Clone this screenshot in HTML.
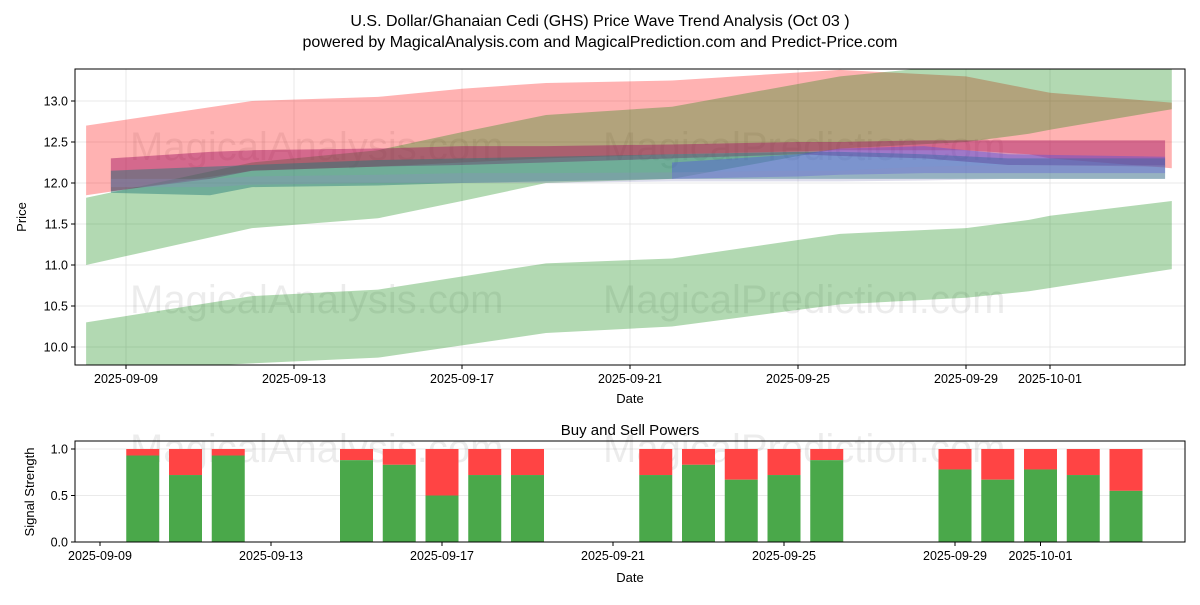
<!DOCTYPE html>
<html><head><meta charset="utf-8"><style>
body{margin:0;background:#fff;font-family:"Liberation Sans",sans-serif;}
svg text{font-family:"Liberation Sans",sans-serif;fill:#000;}
</style></head><body>
<svg id="s" width="1200" height="600" xmlns="http://www.w3.org/2000/svg">
<text x="600" y="26" text-anchor="middle" font-size="16">U.S. Dollar/Ghanaian Cedi (GHS) Price Wave Trend Analysis (Oct 03 )</text>
<text x="600" y="47" text-anchor="middle" font-size="16">powered by MagicalAnalysis.com and MagicalPrediction.com and Predict-Price.com</text>
<g id="topPanel"></g>
<g id="botPanel"></g>
</svg>
<script>
// ---- data ----
const bandDates = [8.05, 12, 15, 17, 19, 22, 26, 29, 30.5, 31, 33.9];
const redUpper   = [12.7, 13.0, 13.05, 13.15, 13.22, 13.25, 13.38, 13.3, 13.15, 13.1, 12.98];
const redLower   = [11.85, 12.15, 12.2, 12.25, 12.3, 12.35, 12.4, 12.4, 12.35, 12.3, 12.18];
const greenHiUpper = [11.82, 12.25, 12.4, 12.62, 12.83, 12.93, 13.3, 13.45, 13.45, 13.45, 13.45];
const greenHiLower = [11.0, 11.45, 11.57, 11.78, 12.0, 12.05, 12.42, 12.5, 12.6, 12.65, 12.9];
const greenLoUpper = [10.3, 10.62, 10.7, 10.86, 11.02, 11.08, 11.38, 11.45, 11.55, 11.6, 11.78];
const greenLoLower = [9.7, 9.8, 9.87, 10.02, 10.17, 10.25, 10.52, 10.6, 10.68, 10.72, 10.95];
const midDates = [8.64, 11, 12, 15, 17, 19, 22, 25, 26, 28, 30, 33.74];
const purpleUpper = [12.3, 12.38, 12.4, 12.42, 12.45, 12.45, 12.47, 12.5, 12.5, 12.52, 12.52, 12.52];
const purpleLower = [11.9, 12.05, 12.15, 12.2, 12.22, 12.25, 12.3, 12.35, 12.33, 12.3, 12.22, 12.2];
const tealUpper = [12.15, 12.2, 12.22, 12.28, 12.3, 12.32, 12.35, 12.38, 12.38, 12.35, 12.3, 12.3];
const tealLower = [11.88, 11.85, 11.95, 11.97, 12.0, 12.02, 12.05, 12.05, 12.05, 12.05, 12.05, 12.05];
const blueUpper = [12.1, 12.15, 12.18, 12.2, 12.22, 12.22, 12.25, 12.35, 12.42, 12.45, 12.35, 12.32];
const blueLower = [11.9, 11.9, 11.95, 12.0, 12.0, 12.03, 12.05, 12.08, 12.1, 12.12, 12.12, 12.12];
const lavUpper = [12.05, 12.05, 12.08, 12.1, 12.12, 12.12, 12.13, 12.15, 12.15, 12.2, 12.22, 12.22];
const lavLower = [11.95, 11.95, 11.98, 12.0, 12.0, 12.0, 12.02, 12.02, 12.02, 12.03, 12.05, 12.05];
const priceTicks = [10.0, 10.5, 11.0, 11.5, 12.0, 12.5, 13.0];
const dateTicks = [9, 13, 17, 21, 25, 29, 31];
const dateLabels = ["2025-09-09","2025-09-13","2025-09-17","2025-09-21","2025-09-25","2025-09-29","2025-10-01"];
const barDays = [10,11,12,15,16,17,18,19,22,23,24,25,26,29,30,31,32,33];
const buyPower = [0.93,0.72,0.93,0.88,0.83,0.5,0.72,0.72,0.72,0.83,0.67,0.72,0.88,0.78,0.67,0.78,0.72,0.55];
const strengthTicks = [0.0, 0.5, 1.0];

const NS="http://www.w3.org/2000/svg";
function mk(p,tag,at){const e=document.createElementNS(NS,tag);for(const k in at)e.setAttribute(k,at[k]);p.appendChild(e);return e;}
const topG=document.getElementById('topPanel'), botG=document.getElementById('botPanel');
const TL=75,TR=1185,TT=69,TB=365;
const tx=d=>126+(d-9)*42, ty=v=>183-(v-12)*82;
const BT=441,BB=542;
const bx=d=>100+(d-9)*42.75, by=v=>542-v*93;

// top panel
const defs=mk(topG,'defs',{});const cp=mk(defs,'clipPath',{id:'c1'});mk(cp,'rect',{x:TL,y:TT,width:TR-TL,height:TB-TT});
const grid=mk(topG,'g',{});
priceTicks.forEach(v=>{const l=mk(grid,'line',{x1:TL,x2:TR,y1:ty(v),y2:ty(v),stroke:'#e3e3e3','stroke-width':0.8});

});
dateTicks.forEach(d=>{const l=mk(grid,'line',{x1:tx(d),x2:tx(d),y1:TT,y2:TB,stroke:'#e3e3e3','stroke-width':0.8});

});
const wm=mk(topG,'g',{fill:'#000',opacity:0.07});
[[130,160,'MagicalAnalysis.com'],[603,160,'MagicalPrediction.com'],[130,313,'MagicalAnalysis.com'],[603,313,'MagicalPrediction.com']].forEach(w=>{const t=mk(wm,'text',{x:w[0],y:w[1],'font-size':40});t.textContent=w[2];

});
const bands=mk(topG,'g',{'clip-path':'url(#c1)'});
function band(dates,up,lo,color,op,name){
  let pts=dates.map((d,i)=>tx(d)+','+ty(up[i]));
  for(let i=dates.length-1;i>=0;i--)pts.push(tx(dates[i])+','+ty(lo[i]));
  const p=mk(bands,'polygon',{points:pts.join(' '),fill:color,'fill-opacity':op});
  
  
}
band(bandDates,redUpper,redLower,'#ff0000',0.3,'red-band');
band(bandDates,greenHiUpper,greenHiLower,'#008000',0.3,'green-upper-band');
band(bandDates,greenLoUpper,greenLoLower,'#008000',0.3,'green-lower-band');
band(midDates,purpleUpper,purpleLower,'#a01060',0.45,'purple-band');
band(midDates,tealUpper,tealLower,'#207878',0.45,'teal-band');
band(midDates.slice(6),blueUpper.slice(6),blueLower.slice(6),'#5050e0',0.4,'blue-band');
band(midDates,lavUpper,lavLower,'#9090c0',0.3,'lavender-band');
mk(topG,'rect',{x:TL,y:TT,width:TR-TL,height:TB-TT,fill:'none',stroke:'#000','stroke-width':1});
priceTicks.forEach(v=>{mk(topG,'line',{x1:TL-4,x2:TL,y1:ty(v),y2:ty(v),stroke:'#000'});
const t=mk(topG,'text',{x:TL-7,y:ty(v)+4.5,'text-anchor':'end','font-size':12.5});t.textContent=v.toFixed(1);

});
dateTicks.forEach((d,i)=>{mk(topG,'line',{x1:tx(d),x2:tx(d),y1:TB,y2:TB+4,stroke:'#000'});
const t=mk(topG,'text',{x:tx(d),y:TB+18,'text-anchor':'middle','font-size':12.5});t.textContent=dateLabels[i];

});
let t=mk(topG,'text',{x:630,y:403,'text-anchor':'middle','font-size':13});t.textContent='Date';


t=mk(topG,'text',{x:26,y:217,'text-anchor':'middle','font-size':13,transform:'rotate(-90 26 217)'});t.textContent='Price';



// bottom panel
strengthTicks.forEach(v=>{const l=mk(botG,'line',{x1:TL,x2:TR,y1:by(v),y2:by(v),stroke:'#e3e3e3','stroke-width':0.8});

});
const wm2=mk(botG,'g',{fill:'#000',opacity:0.07});
[[130,462,'MagicalAnalysis.com'],[603,462,'MagicalPrediction.com']].forEach(w=>{const e=mk(wm2,'text',{x:w[0],y:w[1],'font-size':40});e.textContent=w[2];

});
barDays.forEach((d,i)=>{
  const b=buyPower[i];
  const r=mk(botG,'rect',{x:bx(d)-16.5,y:by(1),width:33,height:by(b)-by(1),fill:'#ff4444'});
  
  
  const g=mk(botG,'rect',{x:bx(d)-16.5,y:by(b),width:33,height:by(0)-by(b),fill:'#4aa84a'});
  
  
});
mk(botG,'rect',{x:TL,y:BT,width:TR-TL,height:BB-BT,fill:'none',stroke:'#000','stroke-width':1});
strengthTicks.forEach(v=>{mk(botG,'line',{x1:TL-4,x2:TL,y1:by(v),y2:by(v),stroke:'#000'});
const e=mk(botG,'text',{x:TL-7,y:by(v)+4.5,'text-anchor':'end','font-size':12.5});e.textContent=v.toFixed(1);

});
dateTicks.forEach((d,i)=>{mk(botG,'line',{x1:bx(d),x2:bx(d),y1:BB,y2:BB+4,stroke:'#000'});
const e=mk(botG,'text',{x:bx(d),y:BB+18,'text-anchor':'middle','font-size':12.5});e.textContent=dateLabels[i];

});
t=mk(botG,'text',{x:630,y:435,'text-anchor':'middle','font-size':15});t.textContent='Buy and Sell Powers';


t=mk(botG,'text',{x:630,y:582,'text-anchor':'middle','font-size':13});t.textContent='Date';


t=mk(botG,'text',{x:34,y:492,'text-anchor':'middle','font-size':13,transform:'rotate(-90 34 492)'});t.textContent='Signal Strength';


</script>
</body></html>
